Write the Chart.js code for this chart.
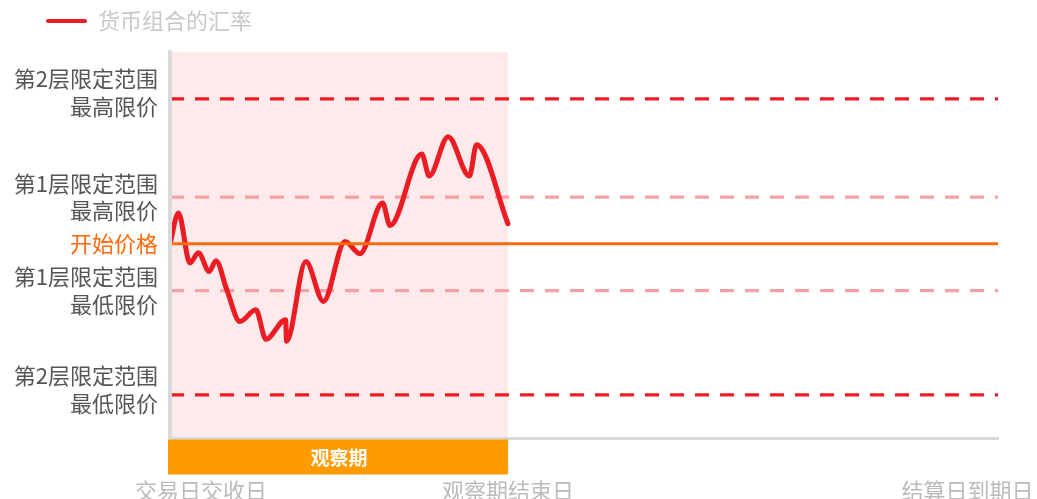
<!DOCTYPE html>
<html>
<head>
<meta charset="utf-8">
<script src="https://cdn.jsdelivr.net/npm/chart.js@4/dist/chart.umd.min.js"></script>
<style>
html, body { margin: 0; padding: 0; background: #fff; }
#wrap { width: 1037px; height: 499px; }
</style>
</head>
<body>
<div id="wrap"><canvas id="myChart"></canvas></div>
<script>
// series
var seriesName = "货币组合的汇率";
var days = [0, 2.5, 5.9, 8.4, 11.6, 13.6, 16.8, 20.7, 25.4, 28.4, 34.2, 34.5, 40.2, 45.4, 51.8, 56.2, 62.9, 65.1, 74.5, 76.7, 82.3, 88.6, 90.7, 100];
var rate = [100, 106.6, 95.9, 98.1, 94.1, 96.4, 90.2, 83.4, 85.9, 79.6, 83.8, 79.2, 96.2, 87.7, 100.5, 97.9, 108.7, 103.9, 119.2, 114.5, 122.9, 114.5, 121.2, 104.3];

// levels
var startPrice = 100;
var levelNames = ["第2层最高限价", "第1层最高限价", "第1层最低限价", "第2层最低限价"];
var levelValues = [131, 110, 90, 67.7];
var obsEnd = 100;
var xMax = 245;
var yMin = 58.5;
var yMax = 141;

// ticks
var yTickValues = [132.3, 110, 100, 90, 68.8];
var yTickLabels = [["第2层限定范围", "最高限价"], ["第1层限定范围", "最高限价"], "开始价格", ["第1层限定范围", "最低限价"], ["第2层限定范围", "最低限价"]];
var xTickValues = [9.2, 100, 236];
var xTickLabels = ["交易日交收日", "观察期结束日", "结算日到期日"];
var obsLabel = "观察期";

var FONT = '"Noto Sans CJK SC", "Noto Sans", sans-serif';
var RED = "#ec1c24";
var ORANGE = "#ff6a0a";

var curve = [];
for (var i = 0; i < days.length; i++) {
    curve.push({x: days[i], y: rate[i]});
}

var datasets = [];
datasets.push({
    label: "bg",
    data: [{x: 0, y: yMax}, {x: obsEnd, y: yMax}],
    fill: "start",
    backgroundColor: "#fdeaea",
    borderWidth: 0,
    pointRadius: 0,
    order: 10,
    xAxisID: "x"
});
for (var j = 0; j < levelValues.length; j++) {
    var outer = (j == 0 || j == 3);
    datasets.push({
        label: levelNames[j],
        data: [{x: 0, y: levelValues[j]}, {x: xMax, y: levelValues[j]}],
        borderColor: outer ? RED : "#f5a1a6",
        borderWidth: 3.3,
        borderDash: [14, 11],
        pointRadius: 0,
        fill: false,
        order: 5,
        xAxisID: "x"
    });
}
datasets.push({
    label: seriesName,
    data: curve,
    borderColor: RED,
    borderWidth: 5,
    borderCapStyle: "round",
    borderJoinStyle: "round",
    cubicInterpolationMode: "monotone",
    pointRadius: 0,
    fill: false,
    order: 2,
    xAxisID: "x"
});
datasets.push({
    label: "开始价格",
    data: [{x: 0, y: startPrice}, {x: xMax, y: startPrice}],
    borderColor: ORANGE,
    borderWidth: 3,
    pointRadius: 0,
    fill: false,
    order: 1,
    xAxisID: "x"
});
var curveIndex = datasets.length - 2;

// orange "observation period" band under the x axis, legend nudge
var obsBar = {
    id: "obsBar",
    afterLayout: function(chart) {
        // legend starts further right than the y labels
        chart.legend.left += 36;
    },
    afterDraw: function(chart) {
        var ctx = chart.ctx;
        var xs = chart.scales.x;
        var x0 = xs.getPixelForValue(0);
        var x1 = xs.getPixelForValue(obsEnd);
        var top = chart.chartArea.bottom + 1.5;
        ctx.save();
        ctx.fillStyle = "#ff9a00";
        ctx.fillRect(x0 - 2, top, x1 - x0 + 2, 35);
        ctx.fillStyle = "#fff";
        ctx.font = "bold 19px " + FONT;
        ctx.textAlign = "center";
        ctx.textBaseline = "middle";
        ctx.fillText(obsLabel, (x0 + x1) / 2, top + 18);
        ctx.restore();
    }
};

new Chart("myChart", {
    type: "line",
    data: {datasets: datasets},
    plugins: [obsBar],
    options: {
        responsive: true,
        maintainAspectRatio: false,
        animation: false,
        layout: {padding: {left: 0, right: 39, top: 0, bottom: 0}},
        plugins: {
            tooltip: {enabled: false},
            legend: {
                display: true,
                position: "top",
                align: "start",
                labels: {
                    color: "#c8c8c8",
                    font: {family: FONT, size: 22},
                    boxWidth: 41,
                    boxHeight: 4,
                    generateLabels: function(chart) {
                        return [{
                            text: seriesName,
                            fillStyle: RED,
                            strokeStyle: RED,
                            fontColor: "#c8c8c8",
                            lineWidth: 0,
                            borderRadius: 2,
                            hidden: false,
                            datasetIndex: curveIndex
                        }];
                    }
                }
            }
        },
        scales: {
            x: {
                type: "linear",
                position: "bottom",
                min: 0,
                max: xMax,
                afterBuildTicks: function(s) {
                    s.ticks = xTickValues.map(function(v) { return {value: v}; });
                },
                afterFit: function(s) {
                    s.height = 61;
                    s.paddingLeft = 0;
                    s.paddingRight = 0;
                },
                ticks: {
                    autoSkip: false,
                    maxRotation: 0,
                    padding: 39,
                    color: "#bbbbbb",
                    font: {family: FONT, size: 22, lineHeight: 1.25},
                    callback: function(v, i) { return xTickLabels[i]; }
                },
                grid: {display: false, drawTicks: false},
                border: {display: true, color: "#d9d9d9", width: 3, z: 1}
            },
            xTop: {
                type: "linear",
                axis: "x",
                position: "top",
                display: true,
                afterFit: function(s) { s.height = 10; },
                ticks: {display: false},
                grid: {display: false, drawTicks: false},
                border: {display: false}
            },
            y: {
                type: "linear",
                min: yMin,
                max: yMax,
                afterBuildTicks: function(s) {
                    s.ticks = yTickValues.map(function(v) { return {value: v}; });
                },
                afterFit: function(s) {
                    s.width = 170;
                    s.paddingTop = 0;
                    s.paddingBottom = 0;
                },
                ticks: {
                    autoSkip: false,
                    padding: 12,
                    color: function(c) { return c.tick && c.tick.value === startPrice ? ORANGE : "#555555"; },
                    font: {family: FONT, size: 22, lineHeight: 1.25},
                    callback: function(v, i) { return yTickLabels[i]; }
                },
                grid: {display: false, drawTicks: false},
                border: {display: true, color: "#d9d9d9", width: 4, z: 1}
            }
        }
    }
});
</script>
</body>
</html>
